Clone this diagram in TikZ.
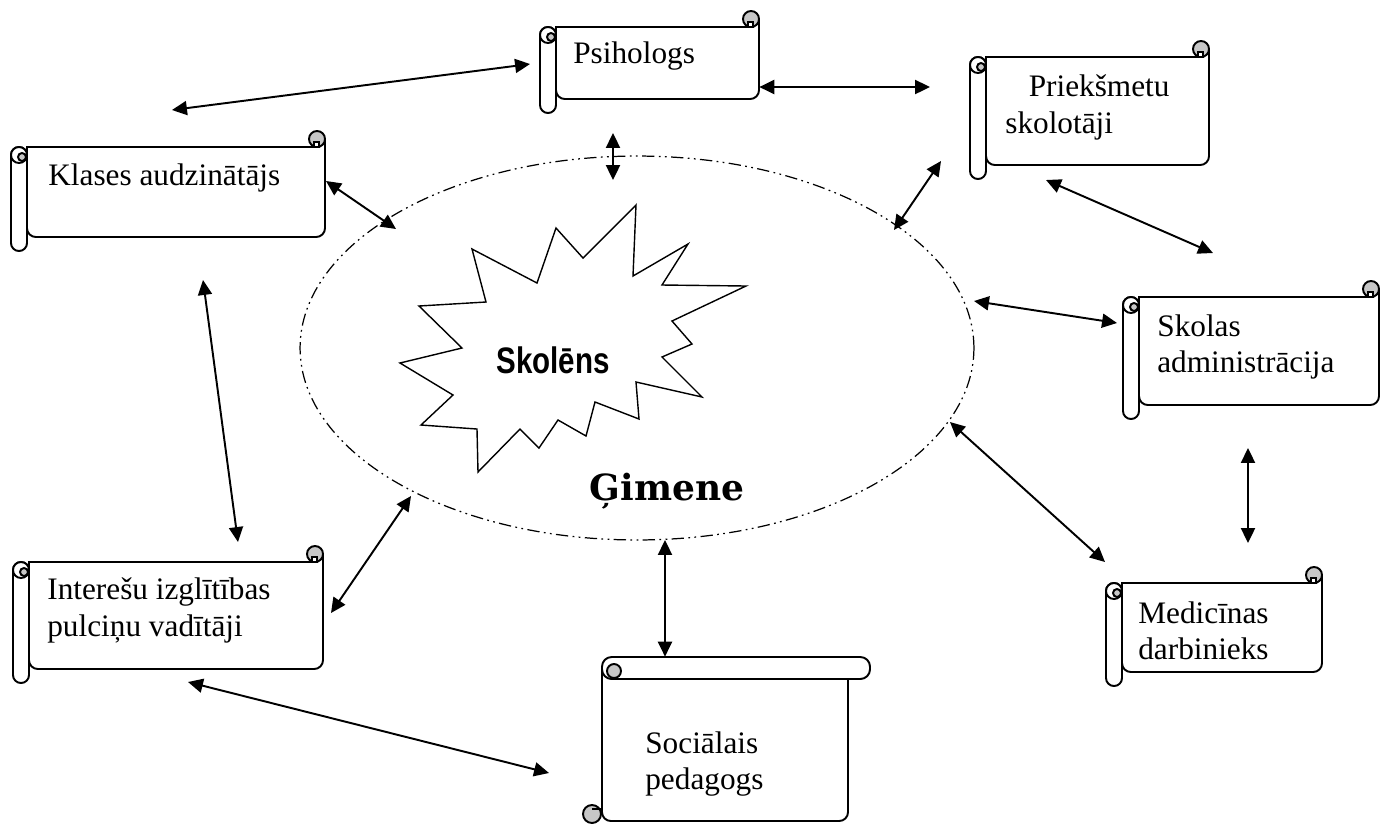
\documentclass[tikz,border=0pt]{standalone}
\usepackage{fontspec}
\setmainfont{Liberation Serif}
\newfontfamily\skolfont[FakeStretch=0.8]{Liberation Sans}
\newfontfamily\gimfont{DejaVu Serif}
\usetikzlibrary{arrows.meta,fit,shapes.geometric}
\definecolor{curlgray}{gray}{0.78}

% horizontal scroll: name, left, top, right, bottom (body only)
\newcommand\hscroll[5]{%
	\draw[scroll] (#2,#3) -- (#4-8,#3) -- (#4-8,#3-8) -- (#4,#3-8) [rounded corners=5pt] -- (#4,#5) -- (#2,#5) [sharp corners] -- cycle;
	\draw[curl] (#4-8,#3-8) circle (8);
	\draw[scroll] (#4-11,#3) rectangle (#4-6,#3-5);
	\draw[scroll, rounded corners=4.5pt] (#2-16,#3) rectangle (#2,#5+14);
	\draw[scroll] (#2-8,#3+8) circle (8);
	\draw[curl] (#2-5,#3+10) circle (4);
	\node[fit={(#2,#3) (#4,#5)}, inner sep=0pt] (#1) {};
}

\begin{document}
\begin{tikzpicture}
	[
	x=0.02cm, y=-0.02cm,
	scroll/.style={draw, line width=1.1pt, fill=white},
	curl/.style={draw, line width=1.1pt, fill=curlgray},
	scrolltext/.style={inner sep=0pt, align=left, font=\fontsize{17.8}{21}\selectfont},
	ring/.style={ellipse, draw, line width=0.7pt, dash pattern=on 7pt off 2.5pt on 1pt off 2.5pt on 1pt off 2.5pt, minimum width=13.48cm, minimum height=7.68cm, inner sep=0pt},
	burst/.style={draw, line width=0.8pt, line join=miter},
	link/.style={line width=1.1pt, {Triangle[length=8.5pt,width=8pt]}-{Triangle[length=8.5pt,width=8pt]}},
	]
		\useasboundingbox (0,0) rectangle (1380,823);
		
		% family ring and pupil
		\node[ring] (gimene) at 	(637,348) {};
		\draw[burst] (472,249) -- (486,302) -- (419,306) -- (462,348) -- (400,363) -- (453,395) -- (421,425) -- (477,429) -- (478,472) -- (520,429) -- (539,448) -- (558,420) -- (586,436) -- (595,402) -- (639,419) -- (636,382) -- (702,397) -- (662,357) -- (692,344) -- (672,321) -- (746,286) -- (662,285) -- (688,244) -- (633,276) -- (636,205) -- (583,258) -- (556,228) -- (537,283) -- cycle;
		\node[anchor=base] (skolens) at 	(553,373) {\skolfont\bfseries\fontsize{21}{25}\selectfont Skolēns};
		\node[anchor=base] (gimtext) at 	(667,500) {\gimfont\bfseries\fontsize{20.5}{24}\selectfont Ģimene};
		
		% scrolls
		\hscroll{klases}{27}{147}{325}{237}
		\hscroll{psih}{556}{27}{759}{99}
		\hscroll{priek}{986}{57}{1209}{165}
		\hscroll{skolas}{1139}{297}{1379}{405}
		\hscroll{inter}{29}{562}{323}{669}
		\hscroll{medic}{1122}{583}{1322}{672}
		
		% social pedagogue (vertical scroll)
		\draw[scroll] (602,668) -- (848,668) [rounded corners=5pt] -- (848,821) -- (602,821) [sharp corners] -- cycle;
		\draw[scroll, rounded corners=5.5pt] (602,657) rectangle (870,679);
		\draw[curl] (614,671) circle (7);
		\draw[curl] (592,814) circle (9);
		\draw[line width=1.1pt] (592,809) -- (602,809);
		\node[fit={(602,657) (848,822)}, inner sep=0pt] (soc) {};
		
		% texts
		\node[scrolltext, anchor=base west] (klasestext) at 	(48,185) {Klases audzinātājs};
		\node[scrolltext, anchor=base west] (psihtext) at 	(573,63) {Psihologs};
		\node[scrolltext, anchor=north west] (priektext) at 	(1005,74) {\hspace*{0.75em}Priekšmetu\\skolotāji};
		\node[scrolltext, anchor=north west] (skolastext) at 	(1157,314) {Skolas\\administrācija};
		\node[scrolltext, anchor=north west] (intertext) at 	(47,577) {Interešu izglītības\\pulciņu vadītāji};
		\node[scrolltext, anchor=north west] (medictext) at 	(1138,601) {Medicīnas\\darbinieks};
		\node[scrolltext, anchor=north west] (soctext) at 	(645,731) {Sociālais\\pedagogs};
		
		% arrow ends
		\coordinate (c1a) at 	(172,110);
		\coordinate (c1b) at 	(530,64);
		\coordinate (c2b) at 	(930,87);
		\coordinate (c3a) at 	(613,133);
		\coordinate (c3b) at 	(613,180);
		\coordinate (c4a) at 	(326,181);
		\coordinate (c4b) at 	(396,229);
		\coordinate (c5a) at 	(941,161);
		\coordinate (c5b) at 	(894,230);
		\coordinate (c6a) at 	(1046,180);
		\coordinate (c6b) at 	(1213,253);
		\coordinate (c7a) at 	(974,301);
		\coordinate (c7b) at 	(1117,323);
		\coordinate (c8a) at 	(203,280);
		\coordinate (c8b) at 	(238,542);
		\coordinate (c9a) at 	(411,496);
		\coordinate (c9b) at 	(331,613);
		\coordinate (c10a) at 	(188,682);
		\coordinate (c10b) at 	(549,773);
		\coordinate (c11a) at 	(665,540);
		\coordinate (c12a) at 	(950,422);
		\coordinate (c12b) at 	(1105,562);
		\coordinate (c13a) at 	(1248,448);
		\coordinate (c13b) at 	(1248,543);
		
		\foreach \from/\to in {c1a/c1b,c3a/c3b,c4a/c4b,c5a/c5b,c6a/c6b,c7a/c7b,c8a/c8b,c9a/c9b,c10a/c10b,c12a/c12b,c13a/c13b} \draw[link] (\from) -- (\to);
		\draw[link] (psih.east |- c2b) -- (c2b);
		\draw[link] (c11a) -- (c11a |- soc.north);
		
	\end{tikzpicture}
\end{document}
